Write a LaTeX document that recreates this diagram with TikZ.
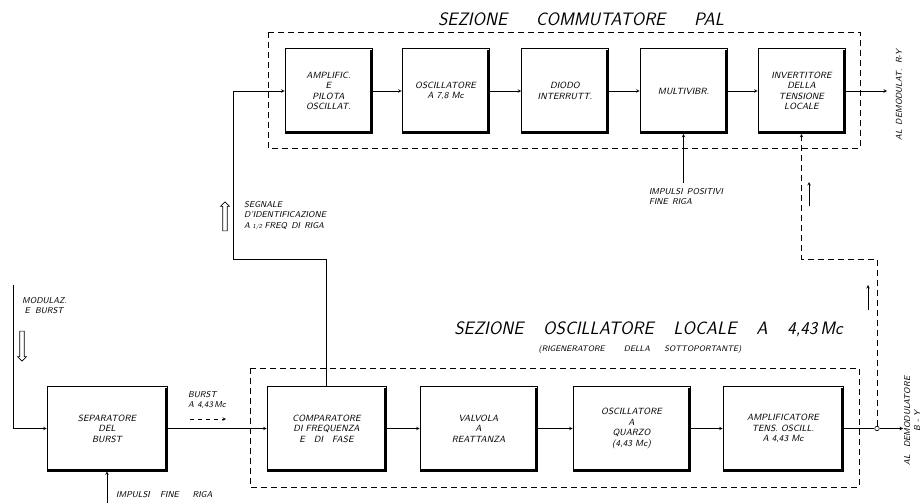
\documentclass[tikz,border=0pt]{standalone}
\usepackage{tikz}
\usetikzlibrary{shapes,shapes.arrows,arrows,positioning,calc}
\tikzstyle{arr}     =[->, semithick, >=stealth]
\tikzstyle{dashln}  =[semithick, dash pattern=on 6pt off 4pt]
\tikzstyle{blk}     =[draw, semithick, align=center, minimum height=85pt, font=\fontsize{9}{10.5}\selectfont\sffamily\slshape]
\tikzstyle{lbl}     =[font=\fontsize{8.5}{10}\selectfont\sffamily\slshape, inner sep=0pt]
\tikzstyle{ttl}     =[font=\fontsize{18}{20}\selectfont\sffamily\slshape, inner sep=0pt]
\tikzstyle{hollow}  =[draw, semithick, single arrow, minimum width=9pt, single arrow head extend=1.5pt, inner sep=1.2pt]

\begin{document}
\begin{tikzpicture}[x=1pt, y=-1pt]
  \useasboundingbox (0,0) rectangle (923,503);

  % ── sezione commutatore PAL ────────────────────────────────────────────────
  \draw[dashln] (268,32) rectangle (860,148);
  \node[ttl] (tpal) at (581,19) {SEZIONE\hspace{1.6em}COMMUTATORE\hspace{1.6em}PAL};

  \node[blk, minimum width=87pt] (ampo) at (328.5,91) {AMPLIFIC.\\E\\PILOTA\\OSCILLAT.};
  \node[blk, minimum width=87pt] (osc78) at (445.5,91) {OSCILLATORE\\A 7,8 Mc};
  \node[blk, minimum width=87pt] (diodo) at (565,91) {DIODO\\INTERRUTT.};
  \node[blk, minimum width=87pt] (multi) at (683.5,91) {MULTIVIBR.};
  \node[blk, minimum width=87pt] (invt) at (801.5,91) {INVERTITORE\\DELLA\\TENSIONE\\LOCALE};

  \draw[arr] (ampo) -- (osc78);
  \draw[arr] (osc78) -- (diodo);
  \draw[arr] (diodo) -- (multi);
  \draw[arr] (multi) -- (invt);

  \coordinate (ry) at (887,91);
  \draw[arr] (invt.east) -- (ry);
  \node[lbl, rotate=90] (lry) at (899,95) {AL\hspace{0.6em}DEMODULAT.\hspace{0.6em}R-Y};

  \coordinate (ipf) at (683.5,183);
  \draw[arr] (ipf) -- (multi.south);
  \node[lbl, align=left, anchor=north] (lipf) at (686,188) {IMPULSI\hspace{0.5em}POSITIVI\\FINE\hspace{0.5em}RIGA};

  % ── sezione oscillatore locale ─────────────────────────────────────────────
  \draw[dashln] (250,368) rectangle (859,487);
  \node[ttl] (tosc) at (648.5,329) {SEZIONE\hspace{1.1em}OSCILLATORE\hspace{1.1em}LOCALE\hspace{1.1em}A\hspace{1.1em}4,43\,Mc};
  \node[lbl, font=\fontsize{8}{9}\selectfont\sffamily\slshape] (sosc) at (640,349) {(RIGENERATORE\hspace{2.4em}DELLA\hspace{1.8em}SOTTOPORTANTE)};

  \node[blk, minimum width=120pt] (sep) at (107,428.5) {SEPARATORE\\DEL\\BURST};
  \node[blk, minimum width=119pt] (comp) at (326.5,428.5) {COMPARATORE\\DI FREQUENZA\\E\hspace{1em}DI\hspace{1em}FASE};
  \node[blk, minimum width=117pt] (valv) at (478.5,428.5) {VALVOLA\\A\\REATTANZA};
  \node[blk, minimum width=117pt] (quar) at (631.5,428.5) {OSCILLATORE\\A\\QUARZO\\(4,43 Mc)};
  \node[blk, minimum width=120pt] (ampl) at (783,428.5) {AMPLIFICATORE\\TENS. OSCILL.\\A 4,43 Mc};

  % heavy right and bottom edges
  \foreach \n in {ampo,osc78,diodo,multi,invt,sep,comp,valv,quar,ampl}
    \draw[line width=3pt] ($(\n.north east)+(-1,2)$) -- ($(\n.south east)+(-1,-1)$) -- ($(\n.south west)+(0,-1)$);

  \draw[arr] (sep) -- (comp);
  \draw[arr] (comp) -- (valv);
  \draw[arr] (valv) -- (quar);
  \draw[arr] (quar) -- (ampl);

  \node[lbl, align=left] (lbst) at (207,400) {BURST\\A\hspace{0.4em}4,43\,Mc};
  \coordinate (bst1) at (190,419);
  \coordinate (bst2) at (226,419);
  \draw[arr, dash pattern=on 4pt off 4pt] (bst1) -- (bst2);

  % ── ingressi ───────────────────────────────────────────────────────────────
  \coordinate (modin) at (13,285);
  \draw[arr] (modin) |- (sep.west);
  \node[lbl, align=left, anchor=north west] (lmod) at (22,297) {MODULAZ.\\\hspace{0.3em}E\hspace{0.6em}BURST};
  \node[hollow, rotate=-90, minimum height=30pt] (hmod) at (22,345) {};

  \coordinate (ifr) at (107,503);
  \draw[arr] (ifr) -- (sep.south);
  \node[lbl, anchor=west] (lifr) at (116,495) {IMPULSI\hspace{1.2em}FINE\hspace{1.6em}RIGA};

  % ── segnale d'identificazione ──────────────────────────────────────────────
  \coordinate (idk) at (233,259);
  \draw[arr] (comp.north) |- (idk) |- (ampo.west);
  \node[lbl, align=left, anchor=north west] (lseg) at (244,201) {SEGNALE\\D'IDENTIFICAZIONE\\[1.5pt]A\hspace{0.3em}{\fontsize{6}{6}\selectfont 1/2}\hspace{0.3em}FREQ\hspace{0.5em}DI\hspace{0.5em}RIGA};
  \node[hollow, rotate=90, minimum height=29pt] (hseg) at (225,217.5) {};

  % ── uscita e ritorno tensione locale ───────────────────────────────────────
  \node[draw, circle, semithick, inner sep=1.6pt, fill=white] (jn) at (877,428.5) {};
  \draw[semithick] (ampl.east) -- (jn);
  \coordinate (by) at (903,428.5);
  \draw[arr] (jn) -- (by);
  \node[lbl, rotate=90, align=center] (lby) at (912,421) {AL\hspace{0.8em}DEMODULATORE\\B - Y};

  \coordinate (fbk) at (801.5,259);
  \draw[arr, dashln] (jn) |- (fbk) -- (invt.south);

  \coordinate (dir1) at (868,310);
  \coordinate (dir2) at (868,285);
  \draw[arr] (dir1) -- (dir2);
  \coordinate (dir3) at (809,206);
  \coordinate (dir4) at (809,182);
  \draw[arr] (dir3) -- (dir4);

\end{tikzpicture}
\end{document}
